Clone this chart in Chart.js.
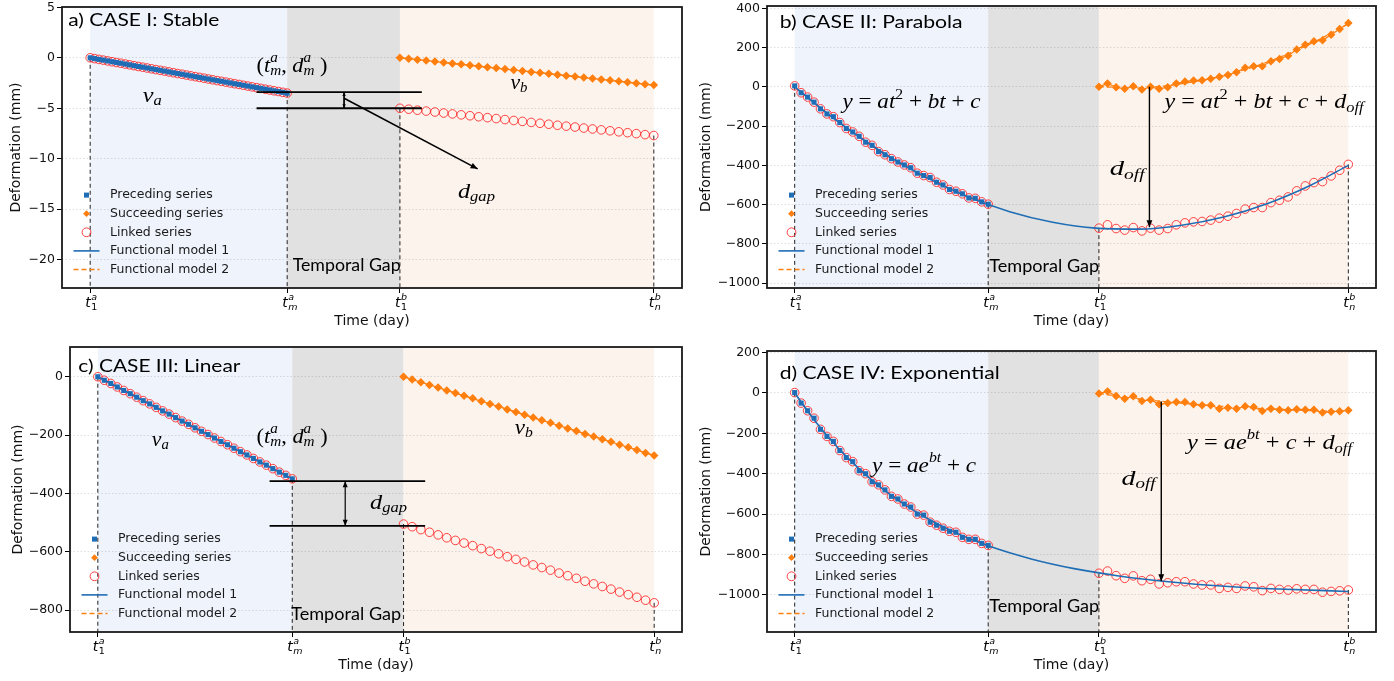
<!DOCTYPE html>
<html>
<head>
<meta charset="utf-8">
<script src="https://cdn.jsdelivr.net/npm/chart.js@4.4.1/dist/chart.umd.min.js"></script>
<style>
  html, body { margin: 0; padding: 0; background: #fff; }
  #wrap { position: relative; width: 1394px; height: 681px; }
  canvas { position: absolute; }
</style>
</head>
<body>
<div id="wrap">
  <canvas id="cA" width="697" height="340" style="left:0;top:0"></canvas>
  <canvas id="cB" width="697" height="340" style="left:697px;top:0"></canvas>
  <canvas id="cC" width="697" height="341" style="left:0;top:340px"></canvas>
  <canvas id="cD" width="697" height="341" style="left:697px;top:340px"></canvas>
</div>
<script>
/* shared axes */
const xTickValues = [0, 180, 283, 515];
const xTickNames = [["t", "a", "1"], ["t", "a", "m"], ["t", "b", "1"], ["t", "b", "n"]];
const legendLabels = ["Preceding series", "Succeeding series", "Linked series", "Functional model 1", "Functional model 2"];

const dayPrecA = [0,4,8,12,16,20,24,28,32,36,40,44,48,52,56,60,64,68,72,76,80,84,88,92,96,100,104,108,112,116,120,124,128,132,136,140,144,148,152,156,160,164,168,172,176,180];
const dayPrec = [0,6,12,18,24,30,36,42,48,54,60,66,72,78,84,90,96,102,108,114,120,126,132,138,144,150,156,162,168,174,180];
const daySucc = [283,291,299,307,315,323,331,339,347,355,363,371,379,387,395,403,411,419,427,435,443,451,459,467,475,483,491,499,507,515];

/* a) stable */
const ticksA = [-20, -15, -10, -5, 0, 5];
const precA = [0,-0.08,-0.16,-0.23,-0.31,-0.39,-0.47,-0.54,-0.62,-0.70,-0.78,-0.86,-0.93,-1.01,-1.09,-1.17,-1.24,-1.32,-1.40,-1.48,-1.56,-1.63,-1.71,-1.79,-1.87,-1.94,-2.02,-2.10,-2.18,-2.26,-2.33,-2.41,-2.49,-2.57,-2.64,-2.72,-2.80,-2.88,-2.96,-3.03,-3.11,-3.19,-3.27,-3.34,-3.42,-3.50];
const succA = [0,-0.09,-0.19,-0.28,-0.37,-0.47,-0.56,-0.65,-0.74,-0.84,-0.93,-1.02,-1.12,-1.21,-1.30,-1.40,-1.49,-1.58,-1.68,-1.77,-1.86,-1.96,-2.05,-2.14,-2.23,-2.33,-2.42,-2.51,-2.61,-2.70];
const linkA = [-5.00,-5.09,-5.19,-5.28,-5.37,-5.47,-5.56,-5.65,-5.74,-5.84,-5.93,-6.02,-6.12,-6.21,-6.30,-6.40,-6.49,-6.58,-6.68,-6.77,-6.86,-6.96,-7.05,-7.14,-7.23,-7.33,-7.42,-7.51,-7.61,-7.70];
const fitA1Day = [0, 180], fitA1 = [0, -3.5];
const fitA2Day = [283, 515], fitA2 = [0, -2.7];

/* b) parabola */
const ticksB = [-1000, -800, -600, -400, -200, 0, 200, 400];
const precB = [5,-30,-52,-78,-112,-138,-152,-182,-212,-230,-252,-282,-298,-330,-346,-366,-383,-398,-412,-440,-452,-462,-486,-500,-523,-532,-545,-566,-568,-586,-598];
const succB = [0,17,-2,-10,3,-14,0,-10,-2,17,27,32,34,41,51,61,75,97,105,105,130,142,159,190,215,232,237,266,295,325];
const linkB = [-720,-703,-722,-730,-717,-734,-720,-730,-722,-703,-693,-688,-686,-679,-669,-659,-645,-623,-615,-615,-590,-578,-561,-530,-505,-488,-483,-454,-425,-395];
const fitB1Day = [0,40,80,120,160,200,240,280,320,360,400,440,480,515];
const fitB1 = [0,-176,-328,-455,-558,-636,-690,-720,-725,-705,-662,-594,-501,-400];
const fitB2Day = [283,320,360,400,440,480,515];
const fitB2 = [0,-4,16,59,127,220,321];

/* c) linear */
const ticksC = [-800, -600, -400, -200, 0];
const precC = [0,-12,-23,-35,-47,-58,-70,-82,-93,-105,-117,-128,-140,-152,-163,-175,-187,-198,-210,-222,-233,-245,-257,-268,-280,-292,-303,-315,-327,-338,-350];
const succC = [0,-9,-19,-28,-37,-47,-56,-65,-74,-84,-93,-102,-112,-121,-130,-140,-149,-158,-168,-177,-186,-196,-205,-214,-223,-233,-242,-251,-261,-270];
const linkC = [-505,-514,-524,-533,-542,-552,-561,-570,-579,-589,-598,-607,-617,-626,-635,-645,-654,-663,-673,-682,-691,-701,-710,-719,-728,-738,-747,-756,-766,-775];
const fitC1Day = [0, 180], fitC1 = [0, -350];
const fitC2Day = [283, 515], fitC2 = [0, -270];

/* d) exponential */
const ticksD = [-1000, -800, -600, -400, -200, 0, 200];
const precD = [2,-50,-88,-125,-180,-215,-240,-285,-320,-340,-385,-400,-440,-455,-480,-512,-525,-550,-565,-600,-605,-640,-655,-670,-685,-690,-715,-725,-725,-745,-755];
const succD = [-3,8,-15,-28,-16,-40,-33,-56,-50,-45,-45,-56,-61,-61,-78,-73,-78,-66,-70,-89,-78,-83,-86,-80,-83,-83,-97,-93,-90,-86];
const linkD = [-893,-882,-905,-918,-906,-930,-923,-946,-940,-935,-935,-946,-951,-951,-968,-963,-968,-956,-960,-979,-968,-973,-976,-970,-973,-973,-987,-983,-980,-976];
const fitD1Day = [0,20,40,60,80,100,120,150,180,220,260,300,350,400,450,515];
const fitD1 = [0,-146,-270,-376,-467,-544,-611,-693,-757,-822,-870,-905,-936,-957,-971,-983];
const fitD2Day = [283,300,350,400,450,515];
const fitD2 = [-2,-15,-46,-67,-81,-93];

const BLUE = "#1f6db5", ORANGE = "#ff7f0e", RED = "rgba(255,35,35,0.85)";
const MATH = '"Liberation Serif"';

const panels = [
  { id: "cA", h: 340, box: { l: 62, t: 7, r: 682, b: 288 }, yMin: -22.8, yMax: 5.03, yTicks: ticksA, ytPad: 7.6, xtPad: 10.6,
    dayP: dayPrecA, prec: precA, succ: succA, link: linkA, f1x: fitA1Day, f1: fitA1, f2x: fitA2Day, f2: fitA2,
    arrows: [
      { pts: [[152, -3.4], [303, -3.4]], w: 1.8 },
      { pts: [[152, -5.0], [303, -5.0]], w: 1.8 },
      { pts: [[232, -3.4], [232, -5.0]], w: 1, head: "both", hl: 4 },
      { pts: [[232, -4.0], [354, -11.0]], w: 1.6, head: "end", hl: 7 }
    ],
    labels: [
      { kind: "title", text: "a) CASE I: Stable", x: -20, y: 3.76, w: 151 },
      { kind: "gap", text: "Temporal Gap", x: 185, y: -20.6, w: 108 },
      { kind: "math", text: "v_{a}", x: 48, y: -3.76, w: 19 },
      { kind: "math", text: "(t_{m}^{a}, d_{m}^{a} )", x: 152, y: -0.8, w: 71 },
      { kind: "math", text: "v_{b}", x: 384, y: -2.5, w: 17 },
      { kind: "math", text: "d_{gap}", x: 336, y: -13.3, w: 37 }
    ] },
  { id: "cB", h: 340, box: { l: 70, t: 6, r: 679, b: 288 }, yMin: -1025, yMax: 412, yTicks: ticksB, ytPad: 1, xtPad: 10.6,
    dayP: dayPrec, prec: precB, succ: succB, link: linkB, f1x: fitB1Day, f1: fitB1, f2x: fitB2Day, f2: fitB2,
    arrows: [ { pts: [[330, 0], [330, -716]], w: 1.4, head: "end", hl: 7 } ],
    labels: [
      { kind: "title", text: "b) CASE II: Parabola", x: -14, y: 327, w: 183 },
      { kind: "gap", text: "Temporal Gap", x: 181, y: -915, w: 110 },
      { kind: "math", text: "y = at^{2} + bt + c", x: 44.5, y: -80, w: 138 },
      { kind: "math", text: "y = at^{2} + bt + c + d_{off}", x: 344, y: -80, w: 199 },
      { kind: "math", text: "d_{off}", x: 293, y: -421, w: 35 }
    ] },
  { id: "cC", h: 341, box: { l: 70, t: 7, r: 682, b: 292 }, yMin: -875, yMax: 102, yTicks: ticksC, ytPad: 9.6, xtPad: 7.6,
    dayP: dayPrec, prec: precC, succ: succC, link: linkC, f1x: fitC1Day, f1: fitC1, f2x: fitC2Day, f2: fitC2,
    arrows: [
      { pts: [[159, -358], [303, -358]], w: 1.8 },
      { pts: [[159, -511], [303, -511]], w: 1.8 },
      { pts: [[229, -358], [229, -511]], w: 1.2, head: "both", hl: 6 }
    ],
    labels: [
      { kind: "title", text: "c) CASE III: Linear", x: -18, y: 37, w: 162 },
      { kind: "gap", text: "Temporal Gap", x: 179, y: -817, w: 110 },
      { kind: "math", text: "v_{a}", x: 50, y: -217, w: 17 },
      { kind: "math", text: "(t_{m}^{a}, d_{m}^{a} )", x: 147, y: -207, w: 71 },
      { kind: "math", text: "v_{b}", x: 386, y: -176, w: 18 },
      { kind: "math", text: "d_{gap}", x: 252, y: -433, w: 37 }
    ] },
  { id: "cD", h: 341, box: { l: 70, t: 11, r: 679, b: 292 }, yMin: -1184, yMax: 208, yTicks: ticksD, ytPad: 1, xtPad: 7.6,
    dayP: dayPrec, prec: precD, succ: succD, link: linkD, f1x: fitD1Day, f1: fitD1, f2x: fitD2Day, f2: fitD2,
    arrows: [ { pts: [[341, -42], [341, -932]], w: 1.4, head: "end", hl: 7 } ],
    labels: [
      { kind: "title", text: "d) CASE IV: Exponential", x: -14, y: 96, w: 220 },
      { kind: "gap", text: "Temporal Gap", x: 181, y: -1061, w: 110 },
      { kind: "math", text: "y = ae^{bt} + c", x: 72, y: -361, w: 104 },
      { kind: "math", text: "y = ae^{bt} + c + d_{off}", x: 365, y: -250, w: 165 },
      { kind: "math", text: "d_{off}", x: 304, y: -425, w: 34 }
    ] }
];

function pts(xs, ys) { return xs.map((x, i) => ({ x, y: ys[i] })); }
const last = a => a[a.length - 1];

function buildDatasets(p) {
  const ds = [];
  // dashed guides from the series ends down to the axis
  [[p.dayP[0], p.prec[0]], [last(p.dayP), last(p.prec)], [daySucc[0], p.link[0]], [last(daySucc), last(p.link)]]
    .forEach(([x, y]) => ds.push({ data: [{ x, y }, { x, y: p.yMin }], showLine: true, borderColor: "#222",
      borderWidth: 1, borderDash: [4, 3], pointRadius: 0, order: 9 }));
  ds.push({ label: "Linked series", data: pts(p.dayP.concat(daySucc), p.prec.concat(p.link)), pointStyle: "circle",
    pointRadius: 4.3, borderColor: RED, backgroundColor: "rgba(0,0,0,0)", borderWidth: 1, order: 6 });
  ds.push({ label: "Functional model 2", data: pts(p.f2x, p.f2), showLine: true, borderColor: ORANGE, borderWidth: 1.3,
    borderDash: [5, 3], pointRadius: 0, cubicInterpolationMode: "monotone", order: 5 });
  ds.push({ label: "Succeeding series", data: pts(daySucc, p.succ), showLine: true, pointStyle: "rectRot", pointRadius: 3.4,
    borderWidth: 1.2, backgroundColor: ORANGE, borderColor: ORANGE, order: 4 });
  ds.push({ label: "Preceding series", data: pts(p.dayP, p.prec), pointStyle: "rect", pointRadius: 3.6,
    backgroundColor: BLUE, borderColor: BLUE, borderWidth: 0, order: 3 });
  ds.push({ label: "Functional model 1", data: pts(p.f1x, p.f1), showLine: true, borderColor: BLUE, borderWidth: 1.6,
    pointRadius: 0, cubicInterpolationMode: "monotone", order: 2 });
  p.arrows.forEach(a => ds.push({ data: a.pts.map(([x, y]) => ({ x, y })), showLine: true, borderColor: "#000",
    borderWidth: a.w, pointRadius: 0, head: a.head, hl: a.hl, order: 1 }));
  return ds;
}

/* text helpers */
function parseMath(str) {
  const out = [];
  let i = 0;
  while (i < str.length) {
    const c = str[i];
    if ((c === "^" || c === "_") && str[i + 1] === "{") {
      const j = str.indexOf("}", i);
      out.push({ t: str.slice(i + 2, j), mode: c === "^" ? "sup" : "sub" });
      i = j + 1;
    } else {
      let j = i;
      while (j < str.length && !((str[j] === "^" || str[j] === "_") && str[j + 1] === "{")) j++;
      out.push({ t: str.slice(i, j), mode: "n" });
      i = j;
    }
  }
  return out;
}

function drawMath(ctx, str, x, y, size, w) {
  const glyphs = [];
  let cx = 0, prev = null;
  parseMath(str).forEach(tk => {
    const sz = tk.mode === "n" ? size : size * 0.68;
    const dy = tk.mode === "sup" ? -size * 0.36 : tk.mode === "sub" ? size * 0.24 : 0;
    const start = (prev && prev.mode !== "n" && tk.mode !== "n" && prev.mode !== tk.mode) ? prev.start : cx;
    let ww = 0;
    for (const ch of tk.t) {
      ctx.font = (/[A-Za-z]/.test(ch) ? "italic " : "") + sz + "px " + MATH;
      glyphs.push({ ch, x: start + ww, dy, font: ctx.font });
      ww += ctx.measureText(ch).width;
    }
    cx = Math.max(cx, start + ww);
    prev = { mode: tk.mode, start };
  });
  ctx.save();
  ctx.translate(x, y);
  ctx.scale(w ? w / cx : 1, 1);
  ctx.textAlign = "left"; ctx.textBaseline = "middle"; ctx.fillStyle = "#000";
  glyphs.forEach(g => { ctx.font = g.font; ctx.fillText(g.ch, g.x, g.dy); });
  ctx.restore();
}

function drawStretch(ctx, text, x, y, font, w) {
  ctx.font = font;
  const m = ctx.measureText(text).width;
  ctx.save();
  ctx.translate(x, y);
  ctx.scale(w ? w / m : 1, 1);
  ctx.textAlign = "left"; ctx.textBaseline = "middle"; ctx.fillStyle = "#000";
  ctx.fillText(text, 0, 0);
  ctx.restore();
}

function arrowHead(ctx, x0, y0, x1, y1, len) {
  const ang = Math.atan2(y1 - y0, x1 - x0);
  ctx.save();
  ctx.translate(x1, y1); ctx.rotate(ang);
  ctx.beginPath(); ctx.moveTo(0, 0); ctx.lineTo(-len, -len * 0.42); ctx.lineTo(-len, len * 0.42); ctx.closePath();
  ctx.fillStyle = "#000"; ctx.fill();
  ctx.restore();
}

function makeDecor(p) {
  return {
    id: "decor" + p.id,
    beforeDraw(chart) {
      const { ctx, chartArea: ca, scales: { x } } = chart;
      const px = xTickValues.map(v => x.getPixelForValue(v));
      const fills = ["#eef3fc", "#e1e1e1", "#fdf3ed"];
      ctx.save();
      fills.forEach((f, i) => { ctx.fillStyle = f; ctx.fillRect(px[i], ca.top, px[i + 1] - px[i], ca.bottom - ca.top); });
      ctx.restore();
    },
    afterDatasetsDraw(chart) {
      const ctx = chart.ctx;
      chart.data.datasets.forEach((d, i) => {
        if (!d.head) return;
        const els = chart.getDatasetMeta(i).data;
        const a = els[0], b = els[els.length - 1];
        arrowHead(ctx, a.x, a.y, b.x, b.y, d.hl);
        if (d.head === "both") arrowHead(ctx, b.x, b.y, a.x, a.y, d.hl);
      });
    },
    afterDraw(chart) {
      const { ctx, chartArea: ca, scales: { x, y } } = chart;
      // frame
      ctx.save();
      ctx.strokeStyle = "#1a1a1a"; ctx.lineWidth = 1.8;
      ctx.strokeRect(ca.left, ca.top, ca.right - ca.left, ca.bottom - ca.top);
      // x tick labels t^a_1 ...
      ctx.fillStyle = "#000"; ctx.textBaseline = "middle";
      xTickNames.forEach(([base, sup, sub], i) => {
        const tx = x.getPixelForValue(xTickValues[i]);
        const ty = ca.bottom + 15;
        ctx.font = 'italic 14px "DejaVu Sans"'; ctx.textAlign = "right";
        ctx.fillText(base, tx + 0.5, ty);
        ctx.textAlign = "left";
        ctx.font = 'italic 9.5px "DejaVu Sans"';
        ctx.fillText(sup, tx + 1, ty - 5.5);
        ctx.font = (/[a-z]/.test(sub) ? "italic " : "") + '9.5px "DejaVu Sans"';
        ctx.fillText(sub, tx + 1, ty + 5);
      });
      // legend
      const mx = ca.left + 24.5, lx = ca.left + 48;
      legendLabels.forEach((lab, i) => {
        const ly = ca.bottom - 18.5 - (4 - i) * 18.6;
        if (i === 0) { ctx.fillStyle = BLUE; ctx.fillRect(mx - 2.5, ly - 2.5, 5, 5); }
        if (i === 1) {
          ctx.fillStyle = ORANGE; ctx.beginPath();
          ctx.moveTo(mx, ly - 3.4); ctx.lineTo(mx + 3.4, ly); ctx.lineTo(mx, ly + 3.4); ctx.lineTo(mx - 3.4, ly);
          ctx.closePath(); ctx.fill();
        }
        if (i === 2) { ctx.strokeStyle = RED; ctx.lineWidth = 1; ctx.beginPath(); ctx.arc(mx, ly, 4.4, 0, Math.PI * 2); ctx.stroke(); }
        if (i >= 3) {
          ctx.strokeStyle = i === 3 ? BLUE : ORANGE; ctx.lineWidth = 1.6;
          ctx.setLineDash(i === 3 ? [] : [5, 3]);
          ctx.beginPath(); ctx.moveTo(mx - 13, ly); ctx.lineTo(mx + 13, ly); ctx.stroke();
          ctx.setLineDash([]);
        }
        ctx.fillStyle = "#1a1a1a"; ctx.font = '12.5px "DejaVu Sans"'; ctx.textAlign = "left"; ctx.textBaseline = "middle";
        ctx.fillText(lab, lx, ly);
      });
      // titles and annotations
      p.labels.forEach(l => {
        const lx2 = x.getPixelForValue(l.x), ly2 = y.getPixelForValue(l.y);
        if (l.kind === "title") drawStretch(ctx, l.text, lx2, ly2, "18px Lato", l.w);
        else if (l.kind === "gap") drawStretch(ctx, l.text, lx2, ly2, "16.5px Lato", l.w);
        else drawMath(ctx, l.text, lx2, ly2, 22, l.w);
      });
      ctx.restore();
    }
  };
}

panels.forEach(p => {
  const H = p.h;
  new Chart(document.getElementById(p.id), {
    type: "scatter",
    data: { datasets: buildDatasets(p) },
    options: {
      responsive: false,
      animation: false,
      events: [],
      layout: { autoPadding: false, padding: { left: 0, top: p.box.t, right: 697 - p.box.r, bottom: 0 } },
      plugins: { legend: { display: false }, tooltip: { enabled: false } },
      scales: {
        x: {
          type: "linear", min: -25.75, max: 540.75,
          afterBuildTicks: s => { s.ticks = xTickValues.map(v => ({ value: v })); },
          afterFit: s => { s.height = H - p.box.b; s.paddingLeft = 0; s.paddingRight = 0; },
          ticks: { callback: () => "", padding: 0 },
          grid: { drawOnChartArea: false, color: "#000", tickColor: "#000", tickLength: 5, tickWidth: 1 },
          border: { display: false },
          title: { display: true, text: "Time (day)", color: "#111", font: { family: "DejaVu Sans", size: 14 },
            padding: { top: 0, bottom: p.xtPad } }
        },
        y: {
          type: "linear", min: p.yMin, max: p.yMax,
          afterBuildTicks: s => { s.ticks = p.yTicks.map(v => ({ value: v })); },
          afterFit: s => { s.width = p.box.l; s.paddingTop = 0; s.paddingBottom = 0; },
          ticks: { color: "#111", padding: 2, font: { family: "DejaVu Sans", size: 12.5 },
            callback: v => String(v).replace("-", "\u2212") },
          grid: { color: "rgba(0,0,0,0.16)", lineWidth: 0.8, tickColor: "#000", tickLength: 5, tickWidth: 1 },
          border: { display: false, dash: [1.5, 2] },
          title: { display: true, text: "Deformation (mm)", color: "#111", font: { family: "DejaVu Sans", size: 14 },
            padding: { top: p.ytPad, bottom: 0 } }
        }
      }
    },
    plugins: [makeDecor(p)]
  });
});
</script>
</body>
</html>
